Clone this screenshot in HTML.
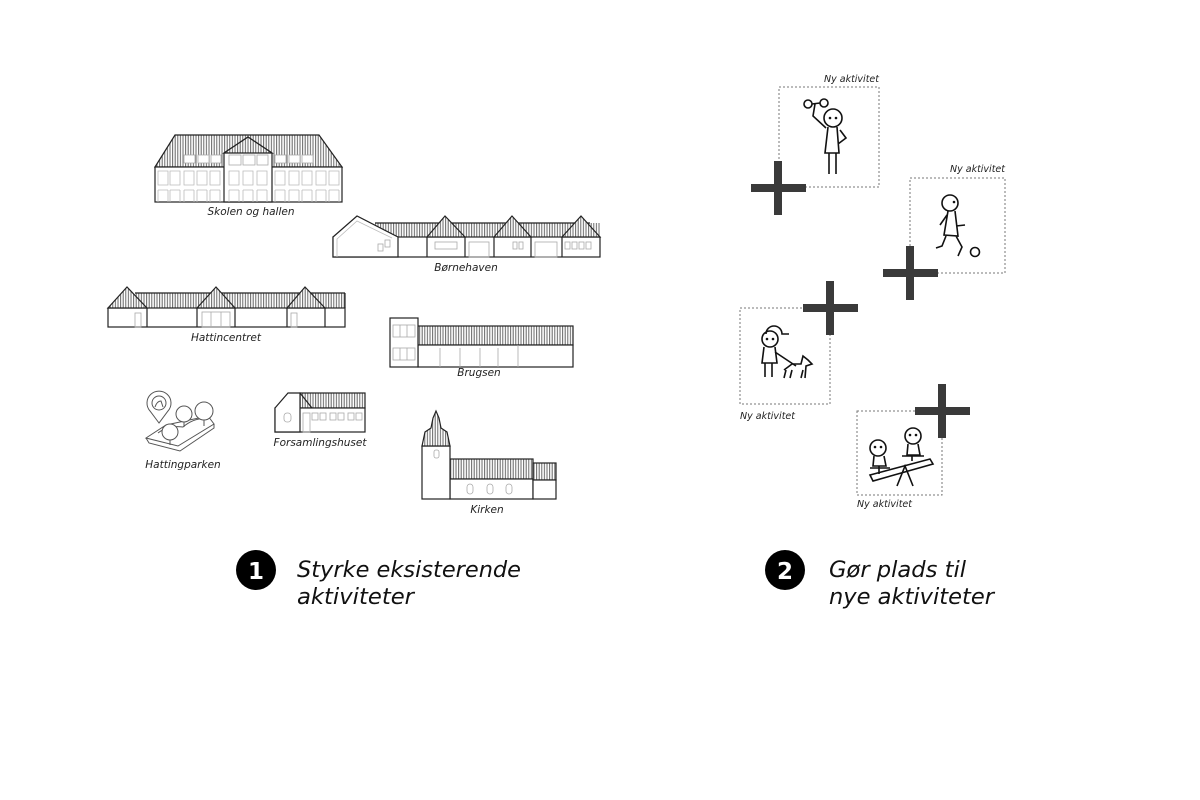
<!DOCTYPE html>
<html><head><meta charset="utf-8"><style>html,body{margin:0;padding:0;background:#fff}svg{display:block}</style></head>
<body>
<svg width="1200" height="800" viewBox="0 0 1200 800" xmlns="http://www.w3.org/2000/svg" font-family="DejaVu Sans, Liberation Sans, sans-serif">
<defs>
<pattern id="h" width="2.6" height="10" patternUnits="userSpaceOnUse"><rect width="2.6" height="10" fill="#fff"/><line x1="1" y1="0" x2="1" y2="10" stroke="#666" stroke-width="1"/></pattern>
</defs>
<g stroke="#222" stroke-width="1.2" fill="none">
<!-- School -->
<polygon points="155,167 175,135 319,135 342,167" fill="url(#h)"/>
<rect x="155" y="167" width="187" height="35" fill="#fff"/>
<polygon points="224,153 248,137 272,153 272,202 224,202" fill="#fff"/>
<polygon points="224,153 248,137 272,153" fill="url(#h)"/>
<g stroke="#aaa" stroke-width="0.8" fill="#fff">
<rect x="184" y="155" width="11" height="8"/><rect x="198" y="155" width="11" height="8"/><rect x="211" y="155" width="10" height="8"/>
<rect x="275" y="155" width="11" height="8"/><rect x="289" y="155" width="11" height="8"/><rect x="302" y="155" width="11" height="8"/>
<rect x="229" y="155" width="12" height="10"/><rect x="243" y="155" width="12" height="10"/><rect x="257" y="155" width="11" height="10"/>
</g>
<g stroke="#bbb" stroke-width="0.8">
<path d="M158,171h10v14h-10zM170,171h10v14h-10zM184,171h10v14h-10zM197,171h10v14h-10zM210,171h10v14h-10zM229,171h10v14h-10zM243,171h10v14h-10zM257,171h10v14h-10zM275,171h10v14h-10zM289,171h10v14h-10zM302,171h10v14h-10zM316,171h10v14h-10zM329,171h10v14h-10z"/>
<path d="M158,190v12M168,190v12M170,190v12M180,190v12M184,190v12M194,190v12M197,190v12M207,190v12M210,190v12M220,190v12M229,190v12M239,190v12M243,190v12M253,190v12M257,190v12M267,190v12M275,190v12M285,190v12M289,190v12M299,190v12M302,190v12M312,190v12M316,190v12M326,190v12M329,190v12M339,190v12M158,190h10M170,190h10M184,190h10M197,190h10M210,190h10M229,190h10M243,190h10M257,190h10M275,190h10M289,190h10M302,190h10M316,190h10M329,190h10"/>
</g>
<!-- Børnehaven -->
<rect x="375" y="223" width="225" height="14" fill="url(#h)" stroke="none"/>
<line x1="375" y1="223" x2="590" y2="223"/>
<rect x="333" y="237" width="267" height="20" fill="#fff"/>
<polygon points="333,237 357,216 398,237 398,257 333,257" fill="#fff"/>
<polyline points="337,257 337,239 357,221 392,238" stroke="#bbb" stroke-width="0.8"/>
<polygon points="427,237 445,216 465,237" fill="url(#h)"/><line x1="427" y1="237" x2="427" y2="257"/><line x1="465" y1="237" x2="465" y2="257"/>
<polygon points="494,237 512,216 531,237" fill="url(#h)"/><line x1="494" y1="237" x2="494" y2="257"/><line x1="531" y1="237" x2="531" y2="257"/>
<polygon points="562,237 581,216 600,237" fill="url(#h)"/><line x1="562" y1="237" x2="562" y2="257"/>
<g stroke="#aaa" stroke-width="0.8"><rect x="378" y="244" width="5" height="7"/><rect x="385" y="240" width="5" height="7"/><rect x="435" y="242" width="22" height="7"/><rect x="469" y="242" width="20" height="15"/><rect x="513" y="242" width="4" height="7"/><rect x="519" y="242" width="4" height="7"/><rect x="535" y="242" width="22" height="15"/><rect x="565" y="242" width="5" height="7"/><rect x="572" y="242" width="5" height="7"/><rect x="579" y="242" width="5" height="7"/><rect x="586" y="242" width="5" height="7"/></g>
<!-- Hattincentret -->
<rect x="135" y="293" width="210" height="15" fill="url(#h)" stroke="none"/>
<line x1="135" y1="293" x2="345" y2="293"/><line x1="345" y1="293" x2="345" y2="308"/>
<rect x="108" y="308" width="237" height="19" fill="#fff"/>
<polygon points="108,308 127,287 147,308" fill="url(#h)"/><line x1="147" y1="308" x2="147" y2="327"/>
<polygon points="197,308 216,287 235,308" fill="url(#h)"/><line x1="197" y1="308" x2="197" y2="327"/><line x1="235" y1="308" x2="235" y2="327"/>
<polygon points="287,308 305,287 325,308" fill="url(#h)"/><line x1="287" y1="308" x2="287" y2="327"/><line x1="325" y1="308" x2="325" y2="327"/>
<g stroke="#aaa" stroke-width="0.8"><rect x="135" y="313" width="6" height="14"/><rect x="202" y="312" width="28" height="15"/><line x1="211" y1="312" x2="211" y2="327"/><line x1="221" y1="312" x2="221" y2="327"/><rect x="291" y="313" width="6" height="14"/></g>
<!-- Brugsen -->
<rect x="418" y="326" width="155" height="19" fill="url(#h)"/>
<rect x="418" y="345" width="155" height="22" fill="#fff"/>
<rect x="390" y="318" width="28" height="49" fill="#fff"/>
<g stroke="#aaa" stroke-width="0.8"><rect x="393" y="325" width="22" height="12"/><line x1="400" y1="325" x2="400" y2="337"/><line x1="407" y1="325" x2="407" y2="337"/><rect x="393" y="348" width="22" height="12"/><line x1="400" y1="348" x2="400" y2="360"/><line x1="407" y1="348" x2="407" y2="360"/><path d="M440,348v19M460,348v19M480,348v19M498,348v19M518,345v22"/></g>
<!-- Forsamlingshuset -->
<rect x="300" y="393" width="65" height="15" fill="url(#h)"/>
<rect x="275" y="408" width="90" height="24" fill="#fff"/>
<polygon points="275,408 288,393 300,393 300,432 275,432 " fill="#fff"/>
<line x1="300" y1="393" x2="312" y2="408"/>
<g stroke="#aaa" stroke-width="0.8"><rect x="284" y="413" width="7" height="9" rx="3"/><rect x="303" y="413" width="7" height="19"/><rect x="312" y="413" width="6" height="7"/><rect x="320" y="413" width="6" height="7"/><rect x="330" y="413" width="6" height="7"/><rect x="338" y="413" width="6" height="7"/><rect x="348" y="413" width="6" height="7"/><rect x="356" y="413" width="6" height="7"/></g>
<!-- Kirken -->
<rect x="450" y="459" width="83" height="20" fill="url(#h)"/>
<rect x="450" y="479" width="83" height="20" fill="#fff"/>
<rect x="533" y="463" width="23" height="17" fill="url(#h)"/>
<rect x="533" y="480" width="23" height="19" fill="#fff"/>
<rect x="422" y="446" width="28" height="53" fill="#fff"/>
<path d="M422,446 L425,432 L431,428 L433,418 L436,411 L439,418 L441,428 L447,432 L450,446 Z" fill="url(#h)"/>
<g stroke="#aaa" stroke-width="0.8"><rect x="434" y="450" width="5" height="8" rx="2"/><rect x="467" y="484" width="6" height="10" rx="3"/><rect x="487" y="484" width="6" height="10" rx="3"/><rect x="506" y="484" width="6" height="10" rx="3"/></g>
<!-- Hattingparken icon -->
<g stroke="#555" stroke-width="1">
<path d="M146,438 L166,425 L208,416 L214,424 L178,446 Z" fill="#fff"/>
<path d="M146,438 L149,443 L180,451 L214,428 L214,424"/>
<path d="M158,433 q10,-8 25,-6 q12,-10 25,-8"/>
<path d="M159,423 L150,411 A12,12 0 1,1 168,411 Z" fill="#fff"/>
<circle cx="159" cy="403" r="7"/>
<path d="M155,407 q2,-6 6,-6 l2,6"/>
<circle cx="184" cy="414" r="8" fill="#fff"/><circle cx="204" cy="411" r="9" fill="#fff"/><circle cx="170" cy="432" r="8" fill="#fff"/>
<path d="M184,422v5M204,420v6M170,440v5"/>
</g>
</g>
<g font-size="10.5" font-style="italic" fill="#222" text-anchor="middle">
<text x="251" y="215">Skolen og hallen</text>
<text x="466" y="271">Børnehaven</text>
<text x="226" y="341">Hattincentret</text>
<text x="479" y="376">Brugsen</text>
<text x="183" y="468">Hattingparken</text>
<text x="320" y="446">Forsamlingshuset</text>
<text x="487" y="513">Kirken</text>
</g>
<!-- right side boxes -->
<g stroke="#777" stroke-width="1" stroke-dasharray="2,2" fill="none">
<rect x="779" y="87" width="100" height="100"/>
<rect x="910" y="178" width="95" height="95"/>
<rect x="740" y="308" width="90" height="96"/>
<rect x="857" y="411" width="85" height="84"/>
</g>
<g font-size="9.5" font-style="italic" fill="#222">
<text x="879" y="82" text-anchor="end">Ny aktivitet</text>
<text x="1005" y="172" text-anchor="end">Ny aktivitet</text>
<text x="740" y="419">Ny aktivitet</text>
<text x="857" y="507">Ny aktivitet</text>
</g>
<g fill="#3a3a3a">
<rect x="751" y="184" width="55" height="8"/><rect x="774" y="161" width="8" height="54"/>
<rect x="883" y="269" width="55" height="8"/><rect x="906" y="246" width="8" height="54"/>
<rect x="803" y="304" width="55" height="8"/><rect x="826" y="281" width="8" height="54"/>
<rect x="915" y="407" width="55" height="8"/><rect x="938" y="384" width="8" height="54"/>
</g>
<!-- figures -->
<g stroke="#111" stroke-width="1.6" fill="none">
<circle cx="808" cy="104" r="4"/><circle cx="824" cy="103" r="4"/><line x1="812" y1="104" x2="820" y2="103"/>
<path d="M815,104 L813,116 L826,128"/>
<circle cx="833" cy="118" r="9"/>
<path d="M828,127 L825,153 L839,153 L837,127 M840,130 L846,138 L838,144 M829,153 V174 M836,153 V174"/>
<circle cx="950" cy="203" r="8"/>
<path d="M948,211 L944,235 L958,236 L955,211 M947,215 L940,225 M956,226 L965,225 M946,236 L942,246 L936,248 M956,236 L962,247 L958,256"/>
<circle cx="975" cy="252" r="4.5"/>
<path d="M766,334 a8,8 0 0,1 16,0 h7"/><circle cx="770" cy="339" r="8"/>
<path d="M764,347 L762,363 L777,363 L775,347 M765,363 V377 M772,363 V377 M775,352 L796,366"/>
<path d="M784,370 L792,364 L801,364 L803,356 L808,360 L812,364 L806,366 L805,378 M786,370 L784,378 M792,370 L790,378 M803,370 L801,378"/>
<circle cx="878" cy="448" r="8"/><circle cx="913" cy="436" r="8"/>
<path d="M874,456 L873,466 L886,466 L884,456 M908,444 L907,455 L920,455 L918,444 M870,468 h20 M902,456 h22 M879,466 v8 M912,455 v6"/>
<path d="M870,475 L930,459 L933,464 L873,481 Z"/>
<path d="M897,486 L905,466 L913,486"/>
</g>
<g fill="#111">
<circle cx="830" cy="118" r="1.3"/><circle cx="836" cy="118" r="1.3"/>
<circle cx="954" cy="202" r="1.3"/><circle cx="767" cy="339" r="1.3"/><circle cx="773" cy="339" r="1.3"/>
<circle cx="875" cy="447" r="1.3"/><circle cx="881" cy="447" r="1.3"/><circle cx="910" cy="435" r="1.3"/><circle cx="916" cy="435" r="1.3"/>
</g>
<!-- headings -->
<circle cx="256" cy="570" r="20" fill="#000"/>
<text x="256" y="579" text-anchor="middle" font-size="23" font-weight="bold" fill="#fff">1</text>
<circle cx="785" cy="570" r="20" fill="#000"/>
<text x="785" y="579" text-anchor="middle" font-size="23" font-weight="bold" fill="#fff">2</text>
<g font-size="22" font-style="italic" fill="#111">
<text x="297" y="577" textLength="224" lengthAdjust="spacingAndGlyphs">Styrke eksisterende</text>
<text x="297" y="604" textLength="117" lengthAdjust="spacingAndGlyphs">aktiviteter</text>
<text x="829" y="577" textLength="137" lengthAdjust="spacingAndGlyphs">Gør plads til</text>
<text x="829" y="604" textLength="165" lengthAdjust="spacingAndGlyphs">nye aktiviteter</text>
</g>
</svg>
</body></html>
